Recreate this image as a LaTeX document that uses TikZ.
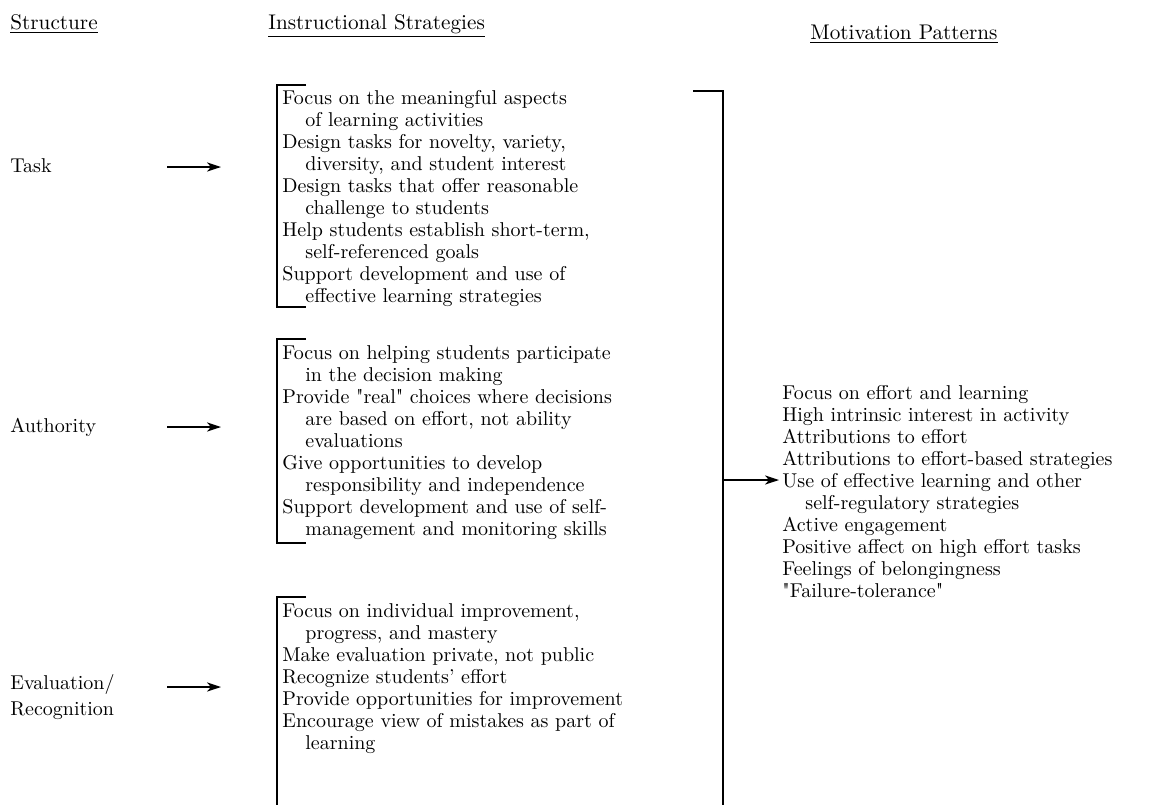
\documentclass[tikz,border=0pt]{standalone}
\usepackage{fontspec}
\usepackage{tikz}
\usetikzlibrary{arrows.meta, positioning}

\newcommand{\ind}{\hspace*{1.15em}}
\newcommand{\qt}{\textquotedbl}

\begin{document}
\begin{tikzpicture}[x=0.5pt, y=-0.5pt,
  every node/.style={font=\fontsize{10}{11}\selectfont, inner sep=0pt},
  head/.style={anchor=base west, font=\fontsize{10.6}{12}\selectfont},
  structname/.style={anchor=base west, align=left},
  block/.style={anchor=north west, align=left},
  feed/.style={-{Stealth[length=7pt, width=4.6pt, inset=2pt]}, line width=0.7pt},
  bracket/.style={line width=0.8pt}]
\useasboundingbox (0,0) rectangle (1168,805);

% Column headings
\node[head] (hstruct) at (10,29) {\underline{Structure}};
\node[head] (hstrat) at (268,29) {\underline{Instructional Strategies}};
\node[head] (hmotiv) at (810,39) {\underline{Motivation Patterns}};

% Structures
\node[structname] (task) at (10,172) {Task};
\node[structname] (auth) at (10,432) {Authority};
\node[structname] (eval) at (10,715) {Evaluation/\\[2pt]Recognition};

% Arrow ends
\coordinate (taskin) at (167,167);
\coordinate (taskout) at (221,167);
\coordinate (authin) at (167,427);
\coordinate (authout) at (221,427);
\coordinate (evalin) at (167,687);
\coordinate (evalout) at (221,687);
\coordinate (joinout) at (723,480);
\coordinate (motivin) at (779,480);

% Strategies for task
\node[block] (tasklist) at (282,90) {Focus on the meaningful aspects\\
  \ind of learning activities\\
  Design tasks for novelty, variety,\\
  \ind diversity, and student interest\\
  Design tasks that offer reasonable\\
  \ind challenge to students\\
  Help students establish short-term,\\
  \ind self-referenced goals\\
  Support development and use of\\
  \ind effective learning strategies};

% Strategies for authority
\node[block] (authlist) at (282,345) {Focus on helping students participate\\
  \ind in the decision making\\
  Provide \qt{}real\qt{} choices where decisions\\
  \ind are based on effort, not ability\\
  \ind evaluations\\
  Give opportunities to develop\\
  \ind responsibility and independence\\
  Support development and use of self-\\
  \ind management and monitoring skills};

% Strategies for evaluation
\node[block] (evallist) at (282,603) {Focus on individual improvement,\\
  \ind progress, and mastery\\
  Make evaluation private, not public\\
  Recognize students' effort\\
  Provide opportunities for improvement\\
  Encourage view of mistakes as part of\\
  \ind learning};

% Motivation patterns
\node[block] (motivlist) at (782,385) {Focus on effort and learning\\
  High intrinsic interest in activity\\
  Attributions to effort\\
  Attributions to effort-based strategies\\
  Use of effective learning and other\\
  \ind self-regulatory strategies\\
  Active engagement\\
  Positive affect on high effort tasks\\
  Feelings of belongingness\\
  \qt{}Failure-tolerance\qt{}};

% Brackets
\draw[bracket] (306,85) -- (277,85) -- (277,307) -- (306,307);
\draw[bracket] (306,339) -- (277,339) -- (277,543) -- (306,543);
\draw[bracket] (306,597) -- (277,597) -- (277,805);
\draw[bracket] (693,91) -- (723,91) -- (723,805);

% Arrows
\draw[feed] (taskin) -- (taskout);
\draw[feed] (authin) -- (authout);
\draw[feed] (evalin) -- (evalout);
\draw[feed] (joinout) -- (motivin);
\end{tikzpicture}
\end{document}
